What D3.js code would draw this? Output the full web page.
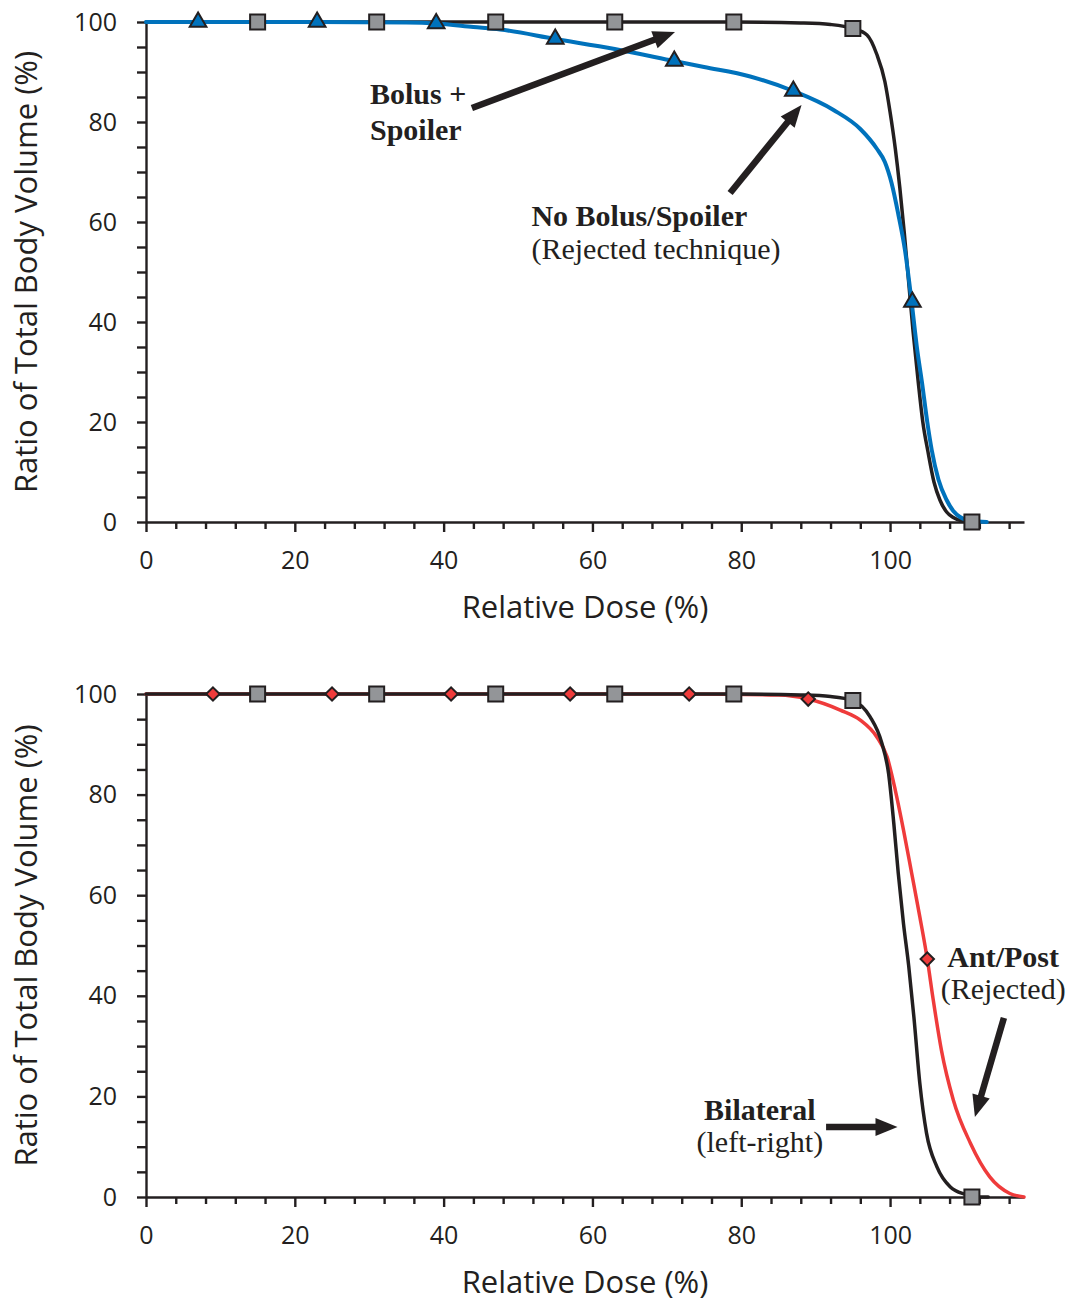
<!DOCTYPE html>
<html lang="en">
<head>
<meta charset="UTF-8">
<title>Relative Dose vs Ratio of Total Body Volume</title>
<script src="https://d3js.org/d3.v7.min.js"></script>
<style>
  body { margin: 0; background: #fff; }
</style>
</head>
<body>
<svg id="chart" width="1068" height="1303"></svg>
<script>
// axis ticks
var doseTicks = [0, 20, 40, 60, 80, 100];
var volumeTicks = [0, 20, 40, 60, 80, 100];

// top panel: Bolus + Spoiler (black, squares)
var bolusSpoilerLine = [[0,100],[15,100],[31,100],[47,100],[63,100],[79,100],[88,99.8],[92,99.5],[95,98.7],[96.9,97.4],[98.2,93.6],[99.3,88.1],[100,82],[100.7,74.7],[101.3,67],[101.9,58],[102.5,48],[103.1,38],[103.8,27.8],[104.4,20],[105.1,14],[105.9,8],[106.7,4.4],[107.6,2],[108.5,0.9],[109.7,0.2],[111,0]];
var bolusSpoilerMarks = [[15,100],[31,100],[47,100],[63,100],[79,100],[95,98.7],[111,0]];

// top panel: No Bolus/Spoiler (blue, triangles)
var noBolusLine = [[0,100],[7,100],[23,100],[35,99.9],[39,99.7],[44,99],[47.6,98.5],[55,96.6],[63,94.6],[71,92.2],[75,91],[81.2,89.1],[87,86.2],[92.4,82.4],[96,78.6],[98.2,74.7],[99.3,72],[100.2,67.8],[101.1,61.6],[102,54.4],[102.9,44],[103.6,35],[104.3,27.8],[105,20],[105.6,14.4],[106.5,8.5],[107.6,4.4],[108.5,2.2],[109.4,1],[111,0.2],[113,0]];
var noBolusMarks = [[7,100],[23,100],[39,99.7],[55,96.6],[71,92.2],[87,86.2],[103,44]];

// bottom panel: Bilateral (black, squares)
var bilateralLine = [[0,100],[15,100],[31,100],[47,100],[63,100],[79,100],[88,99.8],[92,99.5],[95,98.7],[97.3,95.5],[98.9,90.2],[99.8,84.2],[100.5,74.3],[101.1,64.4],[101.8,54.4],[102.5,46],[103.2,35.8],[104,22.6],[104.9,12.7],[106.3,6],[108.1,2],[110.3,0.4],[111,0],[113.2,0]];
var bilateralMarks = [[15,100],[31,100],[47,100],[63,100],[79,100],[95,98.7],[111,0]];

// bottom panel: Ant/Post (red, diamonds)
var antPostLine = [[0,100],[9,100],[25,100],[41,100],[57,100],[73,100],[85,99.8],[89,99],[93.3,96.8],[96,94.8],[98.2,91.5],[99.6,87.5],[100.7,80.9],[101.8,73],[102.9,64.4],[104,55.7],[105,47.3],[105.8,39.2],[106.9,29.2],[108.5,19.3],[110.8,10.7],[113.4,4],[116.1,0.7],[118,0]];
var antPostMarks = [[9,100],[25,100],[41,100],[57,100],[73,100],[89,99],[105,47.3]];

var ink = "#231f20";
var sans = "'Open Sans', sans-serif";
var serif = "'Liberation Serif', 'DejaVu Serif', serif";

var svg = d3.select("#chart");
var x = d3.scaleLinear().domain([0, 118]).range([146, 1024]);

function drawPanel(top, bottom) {
  var y = d3.scaleLinear().domain([0, 100]).range([bottom, top]);
  var g = svg.append("g");

  // y axis, minor ticks every 5
  var ya = g.append("g")
    .attr("transform", "translate(" + x(0) + ",0)")
    .call(d3.axisLeft(y).tickValues(d3.range(0, 101, 5)).tickSize(9).tickPadding(20).tickSizeOuter(0)
      .tickFormat(function (d) { return volumeTicks.indexOf(d) >= 0 ? d : ""; }));

  // x axis, minor ticks every 4
  var xa = g.append("g")
    .attr("transform", "translate(0," + y(0) + ")")
    .call(d3.axisBottom(x).tickValues(d3.range(0, 117, 4)).tickSize(7).tickPadding(22).tickSizeOuter(0)
      .tickFormat(function (d) { return doseTicks.indexOf(d) >= 0 ? d : ""; }));
  xa.selectAll(".tick").filter(function (d) { return doseTicks.indexOf(d) >= 0; })
    .select("line").attr("y2", 10);

  [ya, xa].forEach(function (a) {
    a.style("color", ink).attr("font-family", sans).attr("font-size", 25);
    a.selectAll("path, line").attr("stroke-width", 2.4);
  });

  g.append("text")
    .attr("x", (x.range()[0] + x.range()[1]) / 2)
    .attr("y", y(0) + 96)
    .attr("text-anchor", "middle")
    .attr("font-family", sans).attr("font-size", 31).attr("fill", ink)
    .text("Relative Dose (%)");

  g.append("text")
    .attr("transform", "translate(37," + (top + bottom) / 2 + ") rotate(-90)")
    .attr("text-anchor", "middle")
    .attr("font-family", sans).attr("font-size", 31).attr("fill", ink)
    .text("Ratio of Total Body Volume (%)");

  return { g: g, y: y };
}

var line = function (y) {
  return d3.line().x(function (d) { return x(d[0]); }).y(function (d) { return y(d[1]); }).curve(d3.curveMonotoneX);
};

function drawLine(p, data, color, w) {
  p.g.append("path").datum(data)
    .attr("d", line(p.y))
    .attr("fill", "none").attr("stroke", color).attr("stroke-width", w)
    .attr("stroke-linejoin", "round").attr("stroke-linecap", "round");
}

function drawMarks(p, data, type, size, fill, rotate) {
  p.g.selectAll(null).data(data).enter().append("path")
    .attr("d", d3.symbol().type(type).size(size))
    .attr("transform", function (d) { return "translate(" + x(d[0]) + "," + p.y(d[1]) + ")" + (rotate ? " rotate(45)" : ""); })
    .attr("fill", fill).attr("stroke", ink).attr("stroke-width", 2).attr("stroke-linejoin", "miter");
}

function drawArrow(p, from, to) {
  var x1 = x(from[0]), y1 = p.y(from[1]), x2 = x(to[0]), y2 = p.y(to[1]);
  var a = Math.atan2(y2 - y1, x2 - x1), len = 22, half = 9;
  var bx = x2 - len * Math.cos(a), by = y2 - len * Math.sin(a);
  p.g.append("line")
    .attr("x1", x1).attr("y1", y1).attr("x2", bx + 2 * Math.cos(a)).attr("y2", by + 2 * Math.sin(a))
    .attr("stroke", ink).attr("stroke-width", 6.5);
  p.g.append("path")
    .attr("d", "M" + x2 + "," + y2 +
      "L" + (bx + half * Math.sin(a)) + "," + (by - half * Math.cos(a)) +
      "L" + (bx - half * Math.sin(a)) + "," + (by + half * Math.cos(a)) + "Z")
    .attr("fill", ink);
}

function label(p, dose, vol, txt, bold, anchor) {
  p.g.append("text")
    .attr("x", x(dose)).attr("y", p.y(vol))
    .attr("text-anchor", anchor || "start")
    .attr("font-family", serif).attr("font-size", 30)
    .attr("font-weight", bold ? "bold" : "normal")
    .attr("fill", ink)
    .text(txt);
}

// ---- top panel
var topP = drawPanel(22, 522);
drawLine(topP, bolusSpoilerLine, ink, 3.5);
drawLine(topP, noBolusLine, "#0072bc", 4);
drawMarks(topP, bolusSpoilerMarks, d3.symbolSquare, 225, "#939598");
drawMarks(topP, noBolusMarks, d3.symbolTriangle, 120, "#0072bc");
drawArrow(topP, [43.8, 82.8], [71.1, 98]);
drawArrow(topP, [78.5, 65.8], [88.1, 83.4]);
label(topP, 30.1, 83.6, "Bolus +", true);
label(topP, 30.1, 76.4, "Spoiler", true);
label(topP, 51.8, 59.2, "No Bolus/Spoiler", true);
label(topP, 51.8, 52.6, "(Rejected technique)", false);

// ---- bottom panel
var botP = drawPanel(694, 1197);
drawLine(botP, antPostLine, "#ef3b3b", 3.5);
drawLine(botP, bilateralLine, ink, 3.5);
drawMarks(botP, bilateralMarks, d3.symbolSquare, 225, "#939598");
drawMarks(botP, antPostMarks, d3.symbolSquare, 90, "#ef3b3b", true);
drawArrow(botP, [91.4, 13.9], [101, 13.9]);
drawArrow(botP, [115.3, 35.6], [111.4, 15.9]);
label(botP, 115.2, 45.8, "Ant/Post", true, "middle");
label(botP, 115.2, 39.4, "(Rejected)", false, "middle");
label(botP, 82.5, 15.3, "Bilateral", true, "middle");
label(botP, 82.5, 8.9, "(left-right)", false, "middle");
</script>
</body>
</html>
